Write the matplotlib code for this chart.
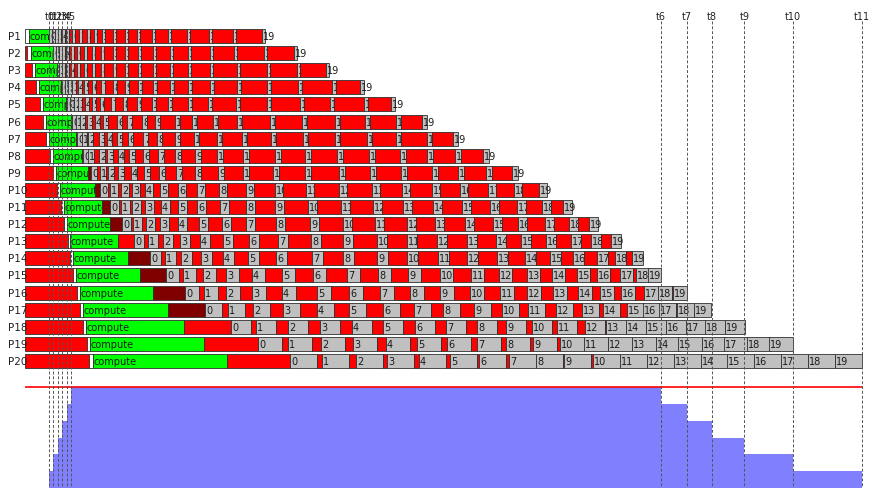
"""Timeline of 20 processes: setup, compute, waits and 20 numbered sends each,
with the count of concurrently active processes underneath."""
import matplotlib.pyplot as plt

plt.rcParams.update({"font.family": "DejaVu Sans"})

# ---- data (time axis in arbitrary ticks) ----
PROCS = [f"P{i}" for i in range(1, 21)]
T_START = 25

SETUP_START = [25, 27, 32, 36, 40, 43, 46, 50, 53, 57, 61, 64, 68, 70, 73, 77, 80, 83, 87, 89]
COMPUTE_START = [29, 31, 35, 39, 43, 46, 49, 53, 56, 60, 64, 67, 70, 73, 76, 80, 83, 86, 90, 93]
COMPUTE_END = [49, 53, 57, 61, 66, 71, 76, 82, 88, 95, 102, 110, 118, 128, 140, 153, 168, 184, 204, 227]
# post-compute wait drawn dark (blocked) or plain red
WAIT_DARK = [False] * 8 + [True, True, True, True, False, True, True, True, True, False, False, False]

SEND_WIDTH = [3, 3, 3, 4, 4, 5, 5, 6, 6, 8, 9, 9, 10, 11, 13, 14, 17, 20, 24, 27]
SEND_START = [
    [49, 52, 55, 58, 62, 66, 72, 79, 87, 94, 102, 113, 125, 137, 152, 168, 187, 209, 233, 262],
    [53, 56, 59, 62, 66, 71, 77, 84, 92, 101, 113, 125, 138, 153, 170, 188, 210, 234, 264, 294],
    [57, 59, 62, 66, 71, 77, 84, 92, 101, 113, 125, 138, 153, 170, 188, 210, 237, 267, 297, 326],
    [62, 65, 68, 72, 78, 84, 92, 101, 113, 125, 138, 153, 170, 188, 210, 237, 267, 298, 332, 360],
    [67, 70, 74, 78, 85, 92, 100, 111, 123, 137, 152, 168, 188, 208, 236, 267, 300, 330, 364, 391],
    [72, 76, 80, 87, 95, 103, 117, 127, 142, 155, 175, 192, 213, 237, 270, 302, 335, 365, 396, 422],
    [77, 82, 88, 99, 107, 117, 128, 143, 157, 175, 194, 217, 242, 271, 303, 335, 367, 396, 427, 453],
    [83, 88, 99, 107, 118, 129, 143, 158, 175, 195, 217, 243, 275, 305, 337, 369, 400, 427, 455, 483],
    [91, 100, 108, 118, 131, 144, 159, 176, 195, 218, 243, 273, 305, 339, 370, 401, 432, 458, 486, 512],
    [100, 110, 121, 132, 145, 160, 178, 197, 219, 246, 275, 306, 339, 372, 402, 432, 460, 488, 514, 539],
    [110, 121, 132, 145, 161, 178, 197, 220, 246, 275, 308, 341, 373, 403, 433, 462, 490, 517, 542, 563],
    [122, 133, 146, 160, 178, 199, 222, 246, 276, 310, 343, 375, 407, 435, 465, 493, 518, 545, 569, 589],
    [134, 148, 163, 180, 200, 223, 249, 278, 311, 343, 377, 407, 437, 467, 496, 521, 546, 571, 591, 611],
    [150, 165, 181, 201, 223, 248, 276, 312, 343, 377, 407, 438, 467, 497, 525, 550, 573, 597, 615, 632],
    [166, 183, 203, 226, 252, 282, 313, 347, 378, 408, 440, 471, 499, 527, 552, 577, 597, 620, 636, 648],
    [185, 204, 226, 252, 282, 317, 349, 380, 410, 440, 470, 500, 527, 553, 578, 600, 621, 644, 658, 673],
    [205, 228, 253, 283, 317, 349, 383, 414, 443, 474, 502, 528, 556, 582, 603, 627, 643, 659, 677, 694],
    [231, 256, 288, 320, 352, 383, 415, 446, 477, 506, 532, 557, 585, 606, 626, 646, 666, 686, 705, 725],
    [258, 288, 321, 353, 386, 417, 447, 477, 506, 533, 560, 584, 608, 632, 656, 678, 702, 724, 747, 769],
    [290, 322, 356, 387, 419, 450, 479, 509, 536, 564, 593, 620, 647, 674, 701, 727, 754, 781, 808, 835],
]

T_MARKS = [49.3, 53.3, 57.7, 62.3, 66.7, 71, 661, 687.3, 711.7, 744.3, 792.7, 861.7]
T_LABELS = [f"t{i}" for i in range(len(T_MARKS))]
ACTIVE = [1, 2, 3, 4, 5, 6, 5, 4, 3, 2, 1]   # level between consecutive marks
CAPACITY = 6

RED, GREEN, GREY, DARK = "#ff0000", "#00ff00", "#c0c0c0", "#800000"
EDGE = "#303030"
BAR_H = 0.82


def segment(ax, y, left, right, color, z, label=None):
    ax.barh(y, right - left, left=left, height=BAR_H, color=color,
            edgecolor=EDGE, linewidth=0.6, zorder=z)
    if label is not None:
        # later segments are drawn on top, so they hide any overflow of the label
        ax.text(left + 1, y, label, fontsize=7, ha="left", va="center",
                color="#1a1a1a", zorder=z + 0.5)


def draw_row(ax, i):
    z = 3
    if SETUP_START[i] > T_START:
        segment(ax, i, T_START, SETUP_START[i], RED, z)
        z += 1
    segment(ax, i, SETUP_START[i], COMPUTE_START[i], "white", z)
    z += 1
    segment(ax, i, COMPUTE_START[i], COMPUTE_END[i], GREEN, z, "compute")
    z += 1
    sends = SEND_START[i]
    w = SEND_WIDTH[i]
    if sends[0] > COMPUTE_END[i]:
        segment(ax, i, COMPUTE_END[i], sends[0], DARK if WAIT_DARK[i] else RED, z)
        z += 1
    prev_end = sends[0]
    for j, s in enumerate(sends):
        if s > prev_end:
            segment(ax, i, prev_end, s, RED, z)
            z += 1
        segment(ax, i, s, s + w, GREY, z, str(j))
        z += 1
        prev_end = s + w


fig = plt.figure(figsize=(8.7, 4.89), dpi=100)

# lower panel: active count vs capacity
ax_load = fig.add_axes([0, 0, 1, 109 / 489])
xs = [T_START] + T_MARKS
levels = [0] + ACTIVE + [0]
ax_load.fill_between(xs, levels, step="post", color="#8080ff", linewidth=0)
ax_load.hlines(CAPACITY, T_START, T_MARKS[-1], color="red", linewidth=1.2)
ax_load.set_xlim(0, 870)
ax_load.set_ylim(0, 6.49)
ax_load.axis("off")

# upper panel: per-process timeline (transparent, drawn over the load panel)
ax = fig.add_axes([0, 0, 1, 1])
ax.patch.set_alpha(0)
for i in range(len(PROCS)):
    draw_row(ax, i)
    ax.text(8, i, PROCS[i], fontsize=7.5, ha="left", va="center", color="#222222")

for t, lab in zip(T_MARKS, T_LABELS):
    ax.vlines(t, -0.85, 26.5, colors="#555555", linestyles=(0, (3, 2)),
              linewidth=0.7, zorder=1000)
    ax.text(t, -1.15, lab, fontsize=7, ha="center", va="center", color="#222222")

ax.set_xlim(0, 870)
ax.set_ylim(26.43, -2.164)
ax.axis("off")

fig.savefig("out.png", dpi=100)
